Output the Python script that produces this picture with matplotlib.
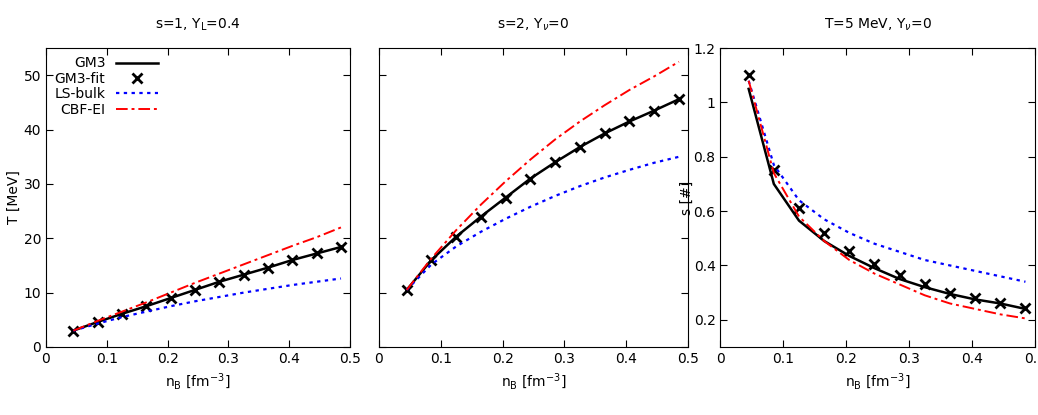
import matplotlib
matplotlib.use("Agg")
import matplotlib.pyplot as plt

nB = [0.045, 0.085, 0.125, 0.165, 0.205, 0.245, 0.285, 0.325, 0.365, 0.405, 0.445, 0.485]

T1_gm3 = [3, 4.6, 6.1, 7.5, 9, 10.5, 12, 13.3, 14.6, 16, 17.2, 18.4]
T1_fit = [3, 4.6, 6.1, 7.5, 9, 10.5, 12, 13.3, 14.6, 16, 17.2, 18.4]
T1_ls = [3, 4.3, 5.5, 6.5, 7.5, 8.4, 9.2, 10, 10.7, 11.4, 12, 12.6]
T1_cbf = [3, 4.8, 6.5, 8.2, 10, 11.8, 13.5, 15.2, 16.9, 18.6, 20.2, 22]

T2_gm3 = [10.5, 16, 20.3, 24, 27.5, 31, 34, 36.8, 39.3, 41.5, 43.5, 45.6]
T2_fit = [10.5, 16, 20.3, 24, 27.5, 31, 34, 36.8, 39.3, 41.5, 43.5, 45.6]
T2_ls = [10.5, 15.2, 18.5, 21.2, 23.6, 25.8, 27.8, 29.6, 31.2, 32.6, 33.9, 35]
T2_cbf = [10.5, 16.3, 21.5, 26.2, 30.5, 34.5, 38.2, 41.5, 44.5, 47.3, 49.8, 52.5]

s3_gm3 = [1.05, 0.70, 0.565, 0.49, 0.435, 0.39, 0.35, 0.32, 0.295, 0.275, 0.26, 0.24]
s3_fit = [1.1, 0.75, 0.61, 0.52, 0.455, 0.405, 0.365, 0.33, 0.30, 0.28, 0.26, 0.245]
s3_ls = [1.08, 0.77, 0.64, 0.57, 0.52, 0.48, 0.45, 0.42, 0.40, 0.38, 0.36, 0.34]
s3_cbf = [1.08, 0.74, 0.58, 0.49, 0.42, 0.37, 0.33, 0.29, 0.26, 0.24, 0.22, 0.205]

titles = ["s=1, Y$_\\mathrm{L}$=0.4", "s=2, Y$_\\nu$=0", "T=5 MeV, Y$_\\nu$=0"]
xticks = [0, 0.1, 0.2, 0.3, 0.4, 0.5]
xticklabels = ["0", "0.1", "0.2", "0.3", "0.4", "0.5"]

fig = plt.figure(figsize=(10.38, 4.15), dpi=100)
axes = [fig.add_axes([0.0443, 0.164, 0.293, 0.72]),
        fig.add_axes([0.365, 0.164, 0.298, 0.72]),
        fig.add_axes([0.694, 0.164, 0.303, 0.72])]

data = [(T1_gm3, T1_fit, T1_ls, T1_cbf), (T2_gm3, T2_fit, T2_ls, T2_cbf), (s3_gm3, s3_fit, s3_ls, s3_cbf)]
for i, (ax, (g, f, l, c)) in enumerate(zip(axes, data)):
    ax.plot(nB, g, color="black", lw=1.8, label="GM3")
    ax.plot(nB, f, ls="none", marker="x", color="black", ms=7, mew=2, label="GM3-fit")
    ax.plot(nB, l, color="blue", ls=(0, (1.5, 2)), lw=1.6, label="LS-bulk")
    ax.plot(nB, c, color="red", ls=(0, (6, 2, 1.5, 2)), lw=1.4, label="CBF-EI")
    ax.set_xlim(0, 0.5)
    ax.set_xticks(xticks)
    ax.set_xticklabels(xticklabels)
    ax.set_xlabel("n$_\\mathrm{B}$ [fm$^{-3}$]", fontsize=10)
    ax.set_title(titles[i], fontsize=10, pad=14)
    ax.tick_params(direction="in", top=True, right=True, labelsize=10, length=5)

for ax in axes[:2]:
    ax.set_ylim(0, 55)
    ax.set_yticks([0, 10, 20, 30, 40, 50])
axes[0].set_ylabel("T [MeV]", fontsize=10, labelpad=2)
axes[1].set_yticklabels([])
axes[2].set_ylim(0.1, 1.2)
axes[2].set_yticks([0.2, 0.4, 0.6, 0.8, 1.0, 1.2])
axes[2].set_yticklabels(["0.2", "0.4", "0.6", "0.8", "1", "1.2"])
axes[2].set_ylabel("s [#]", fontsize=10, labelpad=0)

axes[0].legend(loc="upper left", frameon=False, markerfirst=False, fontsize=10,
               handlelength=3, borderaxespad=0.2, labelspacing=0.1)

fig.savefig("out.png", dpi=100)
